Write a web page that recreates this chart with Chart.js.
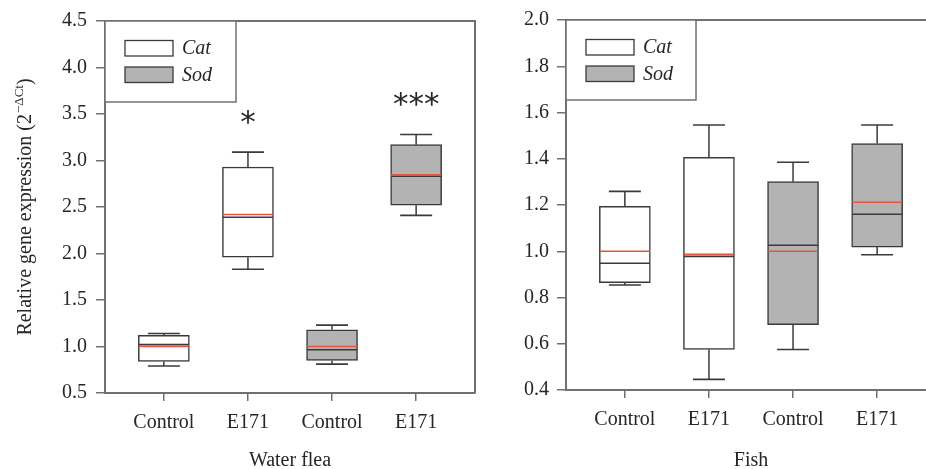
<!DOCTYPE html>
<html><head><meta charset="utf-8">
<script src="https://cdn.jsdelivr.net/npm/chart.js@4/dist/chart.umd.min.js"></script>
<style>
html,body{margin:0;padding:0;background:#fff;}
#wrap{position:relative;width:926px;height:469px;overflow:hidden;background:#fff;}
#c1{position:absolute;left:0;top:0;}
#c2{position:absolute;left:470px;top:0;}
</style></head><body>
<div id="wrap"><canvas id="c1" width="478" height="469"></canvas><canvas id="c2" width="470" height="469"></canvas></div>
<script>
// ---- data ----
const categories = ['Control', 'E171', 'Control', 'E171'];
const seriesNames = ['Cat', 'Sod'];
const boxSeries = [0, 0, 1, 1];

const waterMin    = [0.79, 1.83, 0.81, 2.41];
const waterQ1     = [0.84, 1.96, 0.85, 2.52];
const waterMedian = [1.02, 2.39, 0.965, 2.83];
const waterMean   = [1.00, 2.42, 1.00, 2.845];
const waterQ3     = [1.12, 2.93, 1.18, 3.17];
const waterMax    = [1.14, 3.09, 1.23, 3.28];
const waterSig    = ['', '*', '', '***'];
const waterTicks  = [0.5, 1.0, 1.5, 2.0, 2.5, 3.0, 3.5, 4.0, 4.5];

const fishMin    = [0.854, 0.446, 0.575, 0.985];
const fishQ1     = [0.864, 0.575, 0.683, 1.018];
const fishMedian = [0.948, 0.978, 1.026, 1.160];
const fishMean   = [1.000, 0.987, 1.000, 1.212];
const fishQ3     = [1.194, 1.406, 1.301, 1.466];
const fishMax    = [1.259, 1.546, 1.385, 1.546];
const fishSig    = ['', '', '', ''];
const fishTicks  = [0.4, 0.6, 0.8, 1.0, 1.2, 1.4, 1.6, 1.8, 2.0];

// ---- styles ----
const AXIS = '#707070', LINE = '#3a3a3a', GRAY = '#b3b3b3', RED = '#e4573f', TEXT = '#262626';
const seriesFill = ['#ffffff', GRAY];
const SERIF = '"Liberation Serif", "DejaVu Serif", serif';

const overlay = {
  id: 'overlay',
  afterDatasetsDraw(chart, args, o) {
    const ctx = chart.ctx, ca = chart.chartArea;
    const xs = chart.scales.x, ys = chart.scales.y;
    ctx.save();
    // frame (top + right)
    ctx.strokeStyle = AXIS; ctx.lineWidth = 2;
    ctx.beginPath();
    ctx.moveTo(ca.left, ca.top); ctx.lineTo(ca.right, ca.top); ctx.lineTo(ca.right, ca.bottom);
    ctx.stroke();
    // significance marks
    ctx.fillStyle = TEXT;
    ctx.font = '31px "DejaVu Sans", sans-serif';
    ctx.textAlign = 'center'; ctx.textBaseline = 'alphabetic';
    o.sig.forEach((s, i) => {
      if (!s) return;
      const m = ctx.measureText(s);
      const off = (m.actualBoundingBoxAscent - m.actualBoundingBoxDescent) / 2;
      const cy = ys.getPixelForValue(o.max[i]) - 35;
      ctx.fillText(s, xs.getPixelForValue(i), cy + off);
    });
    // legend box
    const lw = o.legW, lh = o.legH;
    ctx.fillStyle = '#fff';
    ctx.fillRect(ca.left, ca.top, lw, lh);
    ctx.strokeStyle = AXIS; ctx.lineWidth = 1.5;
    ctx.strokeRect(ca.left, ca.top, lw, lh);
    ctx.font = 'italic 20px ' + SERIF;
    ctx.textAlign = 'left'; ctx.textBaseline = 'middle';
    seriesNames.forEach((n, k) => {
      const sy = ca.top + 19.5 + k * 26.5;
      ctx.fillStyle = seriesFill[k];
      ctx.fillRect(ca.left + 20, sy, 48, 15.5);
      ctx.strokeStyle = LINE; ctx.lineWidth = 1.3;
      ctx.strokeRect(ca.left + 20, sy, 48, 15.5);
      ctx.fillStyle = TEXT;
      ctx.fillText(n, ca.left + 77, sy + 8.5);
    });
    // y-axis title with superscript
    if (o.yTitle) {
      ctx.font = '20px ' + SERIF;
      const a = 'Relative gene expression (2', b = '\u2212\u0394Ct', c = ')';
      const wa = ctx.measureText(a).width, wc = ctx.measureText(c).width;
      ctx.font = '13px ' + SERIF;
      const wb = ctx.measureText(b).width;
      const total = wa + wb + wc + 1;
      ctx.translate(31, (ca.top + ca.bottom) / 2);
      ctx.rotate(-Math.PI / 2);
      ctx.textAlign = 'left'; ctx.textBaseline = 'alphabetic';
      ctx.fillStyle = TEXT;
      let x = -total / 2;
      ctx.font = '20px ' + SERIF; ctx.fillText(a, x, 0); x += wa + 1;
      ctx.font = '13px ' + SERIF; ctx.fillText(b, x, -8); x += wb;
      ctx.font = '20px ' + SERIF; ctx.fillText(c, x, 0);
    }
    ctx.restore();
  }
};

function makeChart(id, d) {
  const pts = arr => arr.map((v, i) => ({x: i, y: v}));
  const whisk = [];
  categories.forEach((_, i) => {
    whisk.push({x: i, y: d.q3[i]}, {x: i, y: d.max[i]}, {x: i, y: null});
    whisk.push({x: i, y: d.min[i]}, {x: i, y: d.q1[i]}, {x: i, y: null});
  });
  const lineMark = (data, color, r, order) => ({
    type: 'line', data, showLine: false, order,
    pointStyle: 'line', pointRadius: r, pointBorderColor: color, pointBorderWidth: 1.6,
    pointBackgroundColor: color, pointHoverRadius: r
  });
  new Chart(document.getElementById(id), {
    type: 'bar',
    data: {
      datasets: [
        lineMark(pts(d.mean), RED, 25, 0),
        lineMark(pts(d.median), LINE, 25, 1),
        lineMark(pts(d.max).concat(pts(d.min)), LINE, 16, 2),
        {type: 'line', data: whisk, order: 3, borderColor: LINE, borderWidth: 1.5,
         pointRadius: 0, spanGaps: false, fill: false},
        {type: 'bar', order: 4,
         data: categories.map((_, i) => ({x: i, y: [d.q1[i], d.q3[i]]})),
         backgroundColor: boxSeries.map(s => seriesFill[s]),
         borderColor: LINE, borderWidth: 1.5, borderSkipped: false, barThickness: 51}
      ]
    },
    options: {
      responsive: false, animation: false, events: [],
      layout: {autoPadding: false, padding: {left: 0, right: d.padRight, top: d.padTop, bottom: 0}},
      plugins: {legend: {display: false}, tooltip: {enabled: false}, overlay: d.overlay},
      scales: {
        x: {
          type: 'linear', min: -0.7, max: 3.7, offset: false,
          afterBuildTicks: s => { s.ticks = categories.map((_, i) => ({value: i})); },
          afterFit: s => { s.height = d.xHeight; s.paddingLeft = 0; s.paddingRight = 0; },
          ticks: {callback: v => categories[Math.round(v)], autoSkip: false, maxRotation: 0,
                  padding: 10, color: TEXT, font: {family: SERIF, size: 20}},
          grid: {offset: false, drawOnChartArea: false, drawTicks: true, tickLength: 8, color: AXIS, lineWidth: 1.5},
          border: {display: true, color: AXIS, width: 2},
          title: {display: true, text: d.title, color: TEXT, padding: 0,
                  font: {family: SERIF, size: 20, lineHeight: 0.8}}
        },
        y: {
          min: d.ticks[0], max: d.ticks[d.ticks.length - 1],
          afterBuildTicks: s => { s.ticks = d.ticks.map(v => ({value: v})); },
          afterFit: s => { s.width = d.yWidth; },
          ticks: {callback: v => v.toFixed(1), padding: d.yPad, color: TEXT,
                  font: {family: SERIF, size: 20}},
          grid: {drawOnChartArea: false, drawTicks: true, tickLength: 9, color: AXIS, lineWidth: 1.5},
          border: {display: true, color: AXIS, width: 2}
        }
      }
    },
    plugins: [overlay]
  });
}

makeChart('c1', {
  min: waterMin, q1: waterQ1, median: waterMedian, mean: waterMean, q3: waterQ3, max: waterMax,
  ticks: waterTicks, title: 'Water flea', padRight: 3, padTop: 19, xHeight: 76, yWidth: 105, yPad: 9,
  overlay: {sig: waterSig, max: waterMax, legW: 131, legH: 81, yTitle: true}
});
makeChart('c2', {
  min: fishMin, q1: fishQ1, median: fishMedian, mean: fishMean, q3: fishQ3, max: fishMax,
  ticks: fishTicks, title: 'Fish', padRight: 4, padTop: 18, xHeight: 79, yWidth: 96, yPad: 8,
  overlay: {sig: fishSig, max: fishMax, legW: 130, legH: 80, yTitle: false}
});
</script>
</body></html>
